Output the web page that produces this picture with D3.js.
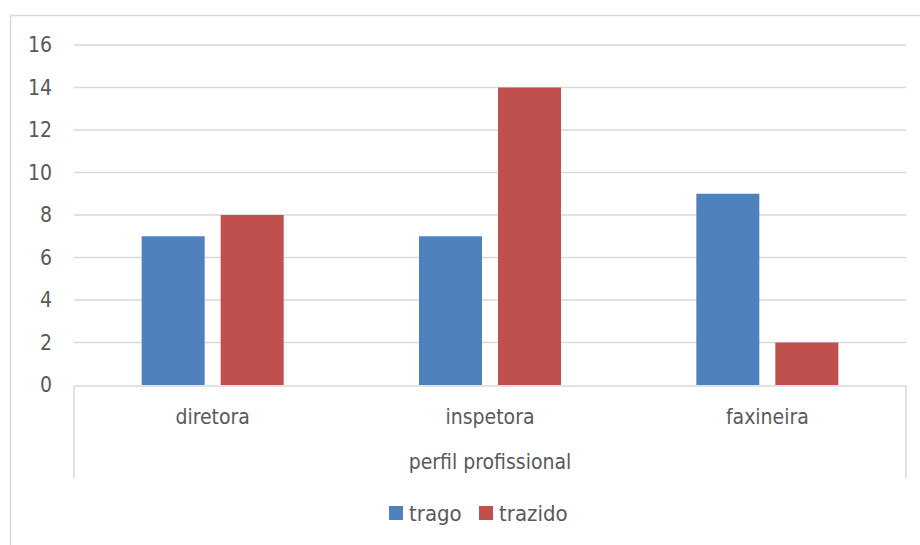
<!DOCTYPE html>
<html lang="pt">
<head>
<meta charset="UTF-8">
<title>perfil profissional</title>
<style>
  body { margin: 0; background: #fff; }
  svg text { font-family: 'DejaVu Sans Condensed', 'DejaVu Sans', sans-serif; font-stretch: condensed; fill: #595959; }
</style>
</head>
<body>
<div id="chart"></div>
<script src="https://d3js.org/d3.v7.min.js"></script>
<script>
// data
const categories = ['diretora', 'inspetora', 'faxineira'];
const seriesNames = ['trago', 'trazido'];
const trago = [7, 7, 9];
const trazido = [8, 14, 2];
const yTicks = [0, 2, 4, 6, 8, 10, 12, 14, 16];
const colors = ['#4f81bd', '#c0504d'];

const width = 920, height = 545;
const plotLeft = 74, plotRight = 906, plotTop = 45, plotBottom = 385;

const svg = d3.select('#chart').append('svg')
    .attr('width', width)
    .attr('height', height);

// outer chart frame
svg.append('rect')
    .attr('x', 10.5).attr('y', 15.5)
    .attr('width', 930).attr('height', 560)
    .attr('fill', 'none')
    .attr('stroke', '#d9d9d9')
    .attr('stroke-width', 1.5);

const y = d3.scaleLinear().domain([0, 16]).range([plotBottom, plotTop]);
const x0 = d3.scaleBand().domain(categories).range([plotLeft, plotRight]);
// bars: 63px wide with a 16px gap inside each group
const x1 = d3.scaleBand().domain(seriesNames)
    .range([x0.bandwidth() / 2 - 71, x0.bandwidth() / 2 + 71])
    .paddingInner(16 / 79);

// gridlines
svg.append('g').selectAll('line')
    .data(yTicks.filter(d => d > 0))
    .enter().append('line')
    .attr('x1', plotLeft).attr('x2', plotRight)
    .attr('y1', d => y(d)).attr('y2', d => y(d))
    .attr('stroke', '#d9d9d9')
    .attr('stroke-width', 1.5);

// y labels
svg.append('g').selectAll('text')
    .data(yTicks)
    .enter().append('text')
    .attr('x', 52)
    .attr('y', d => y(d))
    .attr('dy', '0.35em')
    .attr('text-anchor', 'end')
    .style('font-size', '21px')
    .text(d => d);

// bars
const rows = categories.map((c, i) => ({ cat: c, values: [trago[i], trazido[i]] }));
const groups = svg.append('g').selectAll('g')
    .data(rows)
    .enter().append('g')
    .attr('transform', d => `translate(${x0(d.cat)},0)`);

groups.selectAll('rect')
    .data(d => d.values.map((v, i) => ({ name: seriesNames[i], value: v, i: i })))
    .enter().append('rect')
    .attr('x', d => x1(d.name))
    .attr('width', x1.bandwidth())
    .attr('y', d => y(d.value))
    .attr('height', d => y(0) - y(d.value))
    .attr('fill', d => colors[d.i]);

// category axis line and outer dividers
svg.append('line')
    .attr('x1', plotLeft).attr('x2', plotRight)
    .attr('y1', plotBottom + 1).attr('y2', plotBottom + 1)
    .attr('stroke', '#d9d9d9').attr('stroke-width', 1.5);

svg.append('g').selectAll('line')
    .data([plotLeft, plotRight])
    .enter().append('line')
    .attr('x1', d => d)
    .attr('x2', d => d)
    .attr('y1', plotBottom + 1)
    .attr('y2', 478)
    .attr('stroke', '#d9d9d9').attr('stroke-width', 1.5);

svg.append('g').selectAll('text')
    .data(categories)
    .enter().append('text')
    .attr('x', d => x0(d) + x0.bandwidth() / 2)
    .attr('y', 417)
    .attr('dy', '0.35em')
    .attr('text-anchor', 'middle')
    .style('font-size', '21px')
    .text(d => d);

svg.append('text')
    .attr('x', (plotLeft + plotRight) / 2)
    .attr('y', 462)
    .attr('dy', '0.35em')
    .attr('text-anchor', 'middle')
    .style('font-size', '21px')
    .text('perfil profissional');

// legend
const legendX = [389, 479];
const legend = svg.append('g').selectAll('g')
    .data(seriesNames)
    .enter().append('g')
    .attr('transform', (d, i) => `translate(${legendX[i]},513)`);
legend.append('rect')
    .attr('x', 0).attr('y', -7)
    .attr('width', 14).attr('height', 14)
    .attr('fill', (d, i) => colors[i]);
legend.append('text')
    .attr('x', 20)
    .attr('y', 0)
    .attr('dy', '0.35em')
    .style('font-size', '22px')
    .text(d => d);
</script>
</body>
</html>
